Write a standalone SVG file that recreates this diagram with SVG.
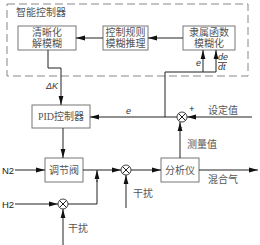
<svg xmlns="http://www.w3.org/2000/svg" width="260" height="245" viewBox="0 0 260 245">
<defs>
<style>
.box{fill:#fff;stroke:#777;stroke-width:1}
.ln{fill:none;stroke:#222;stroke-width:1}
.arr{fill:none;stroke:#222;stroke-width:1;marker-end:url(#ah)}
.cj{font-family:"Liberation Serif","Noto Sans CJK SC",serif;font-size:10px;fill:#555;text-anchor:middle}
.lb{font-family:"Liberation Serif","Noto Sans CJK SC",serif;font-size:10px;fill:#555}
.it{font-family:"Liberation Sans",sans-serif;font-style:italic;font-size:9px;fill:#333}
.sn{font-family:"Liberation Sans",sans-serif;font-size:9.5px;fill:#222}
.sum{fill:#fff;stroke:#444;stroke-width:1}
</style>
<marker id="ah" markerUnits="userSpaceOnUse" markerWidth="9" markerHeight="6" refX="9" refY="3" orient="auto">
<path d="M0,0.6 L9,3 L0,5.4 Z" fill="#111"/>
</marker>
</defs>
<rect width="260" height="245" fill="#fff"/>

<g id="intelligent-controller">
<rect x="7" y="4" width="241" height="72" fill="none" stroke="#888" stroke-width="1" stroke-dasharray="8,4"/>
<text class="lb" x="16" y="16" font-size="10.5">智能控制器</text>
</g>

<g id="defuzzify">
<rect class="box" x="18" y="26" width="58" height="24"/>
<text class="cj" x="47" y="36">清晰化</text>
<text class="cj" x="47" y="47">解模糊</text>
</g>
<g id="rule-inference">
<rect class="box" x="103" y="26" width="45" height="24"/>
<text class="cj" x="125.5" y="36">控制规则</text>
<text class="cj" x="125.5" y="47">模糊推理</text>
</g>
<g id="fuzzify">
<rect class="box" x="183" y="26" width="52" height="24"/>
<text class="cj" x="209" y="36">隶属函数</text>
<text class="cj" x="209" y="47">模糊化</text>
</g>
<g id="pid">
<rect class="box" x="32" y="105" width="58" height="23"/>
<text class="cj" x="61" y="120">PID控制器</text>
</g>
<g id="valve">
<rect class="box" x="45" y="158" width="38" height="24"/>
<text class="cj" x="64" y="174">调节阀</text>
</g>
<g id="analyzer">
<rect class="box" x="161" y="158" width="38" height="24"/>
<text class="cj" x="180" y="174">分析仪</text>
</g>
<g id="sum-main">
<circle class="sum" cx="182" cy="117" r="5"/>
<path class="ln" d="M178.5,113.5 L185.5,120.5 M185.5,113.5 L178.5,120.5" stroke="#444"/>
</g>
<g id="sum-h2">
<circle class="sum" cx="63" cy="204" r="5"/>
<path class="ln" d="M59.5,200.5 L66.5,207.5 M66.5,200.5 L59.5,207.5" stroke="#444"/>
</g>
<g id="sum-mix">
<circle class="sum" cx="126" cy="170" r="5"/>
<path class="ln" d="M122.5,166.5 L129.5,173.5 M129.5,166.5 L122.5,173.5" stroke="#444"/>
</g>

<g id="connectors">
<path class="arr" d="M183,38 L148,38"/>
<path class="arr" d="M103,38 L76,38"/>
<path class="arr" d="M48,50 L48,68 L61,68 L61,105"/>
<path class="arr" d="M177,117 L90,117"/>
<path class="ln" d="M165,117 L165,72 L216,72"/>
<path class="arr" d="M216,72 L216,50"/>
<path class="arr" d="M203,72 L203,50"/>
<path class="arr" d="M252,117 L187,117"/>
<path class="arr" d="M180,158 L180,122"/>
<path class="arr" d="M63,128 L63,158"/>
<path class="arr" d="M15,170 L45,170"/>
<path class="arr" d="M83,170 L121,170"/>
<path class="arr" d="M131,170 L161,170"/>
<path class="arr" d="M126,208 L126,175"/>
<path class="arr" d="M199,170 L258,170"/>
<path class="arr" d="M15,204 L58,204"/>
<path class="ln" d="M68,204 L97,204 L97,180"/>
<path class="arr" d="M97,182 L97,170"/>
<path class="arr" d="M63,245 L63,209"/>
</g>

<g id="labels">
<text class="it" x="46" y="89">ΔK</text>
<text class="it" x="126" y="114">e</text>
<text class="it" x="196" y="66">e</text>
<text class="it" x="218" y="60" font-size="8">de</text>
<line x1="218" y1="62.5" x2="227" y2="62.5" stroke="#333" stroke-width="0.8"/>
<text class="it" x="218" y="70" font-size="8">dt</text>
<text class="sn" x="189" y="112" font-size="9">+</text>
<text class="sn" x="179" y="130" font-size="9">-</text>
<text class="lb" x="208" y="114">设定值</text>
<text class="lb" x="187" y="148">测量值</text>
<text class="lb" x="208" y="183">混合气</text>
<text class="lb" x="133" y="197">干扰</text>
<text class="lb" x="68" y="232">干扰</text>
<text class="sn" x="2" y="173.5">N2</text>
<text class="sn" x="2" y="207.5">H2</text>
</g>
</svg>
